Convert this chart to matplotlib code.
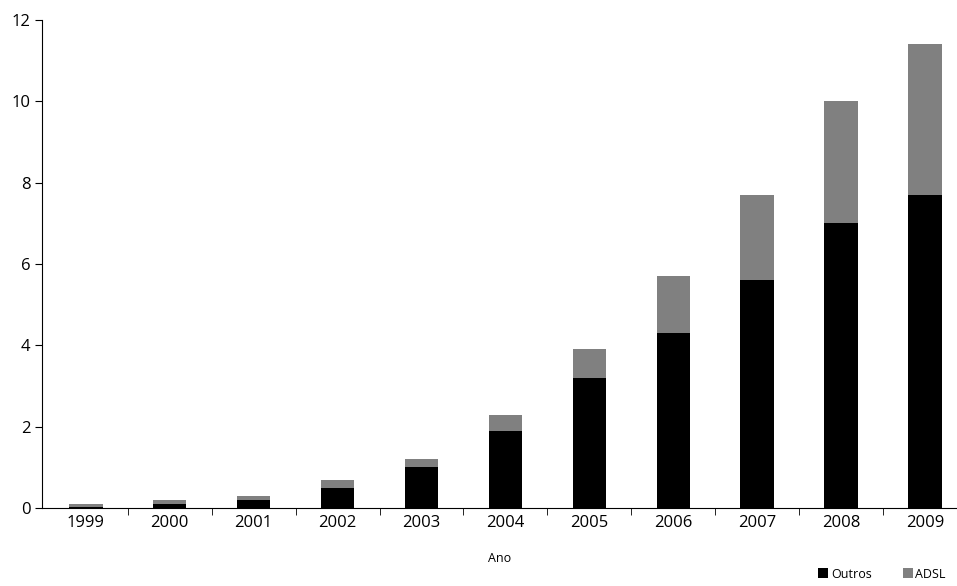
import matplotlib.pyplot as plt
import numpy as np

plt.rcParams['font.family'] = ['Open Sans', 'DejaVu Sans']

anos = ['1999', '2000', '2001', '2002', '2003', '2004', '2005', '2006', '2007', '2008', '2009']
outros = [0.02, 0.1, 0.2, 0.5, 1.0, 1.9, 3.2, 4.3, 5.6, 7.0, 7.7]
total = [0.1, 0.2, 0.3, 0.7, 1.2, 2.3, 3.9, 5.7, 7.7, 10.0, 11.4]
adsl = [t - o for t, o in zip(total, outros)]

fig = plt.figure(figsize=(9.57, 5.86), dpi=100)
ax = fig.add_axes([0.044, 0.133, 0.956, 0.833])

x = np.arange(len(anos))
ax.bar(x, outros, width=0.4, color='black', label='Outros')
ax.bar(x, adsl, width=0.4, bottom=outros, color='#808080', label='ADSL')

ax.set_xlim(-0.52, len(anos) - 1 + 0.38)
ax.set_ylim(0, 12)
ax.set_yticks(range(0, 13, 2))
ax.set_xticks(x)
ax.set_xticklabels(anos)
ax.set_xticks(x[:-1] + 0.5, minor=True)
ax.tick_params(axis='x', which='major', length=0, labelsize=12, pad=5)
ax.tick_params(axis='x', which='minor', length=5, direction='out')
ax.tick_params(axis='y', labelsize=12, length=5)
for s in ['top', 'right']:
    ax.spines[s].set_visible(False)
ax.set_xlabel('Ano', fontsize=9, labelpad=15)

fig.legend(loc='lower right', bbox_to_anchor=(1.0, -0.01), ncol=2, frameon=False,
           fontsize=9, handlelength=0.8, handleheight=0.8, handletextpad=0.2, columnspacing=2.5)

fig.savefig('out.png', dpi=100)
